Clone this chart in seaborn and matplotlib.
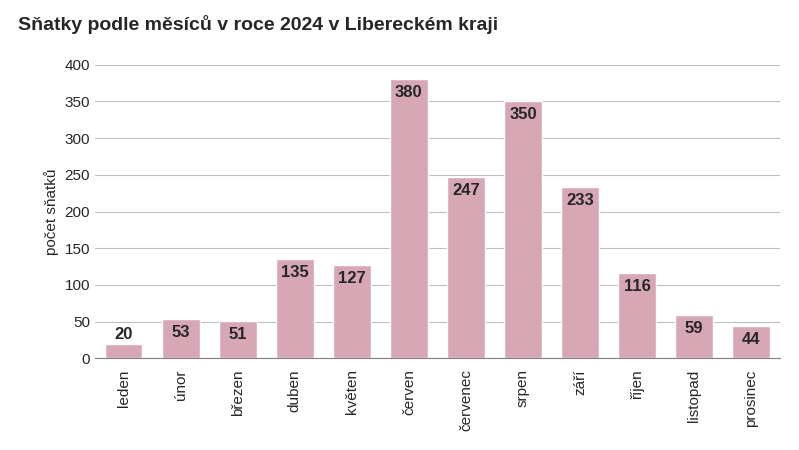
import matplotlib
matplotlib.use("Agg")
import matplotlib.pyplot as plt
import pandas as pd
import seaborn as sns

months = ["leden", "únor", "březen", "duben", "květen", "červen",
          "červenec", "srpen", "září", "říjen", "listopad", "prosinec"]
weddings = [20, 53, 51, 135, 127, 380, 247, 350, 233, 116, 59, 44]

sns.set_style("white")
plt.rcParams["font.family"] = ["Liberation Sans", "DejaVu Sans"]

df = pd.DataFrame({"mesic": months, "pocet": weddings})

fig = plt.figure(figsize=(7.99, 4.5), dpi=100)
ax = fig.add_axes([0.119, 0.204, 0.857, 0.652])
sns.barplot(data=df, x="mesic", y="pocet", color="#d8a7b5", saturation=1, width=0.66, ax=ax, zorder=2)

ax.set_ylim(0, 400)
ax.set_yticks(range(0, 401, 50))
ax.yaxis.grid(True, color="#bfbfbf", linewidth=0.8, zorder=0)
ax.set_axisbelow(True)
for s in ["top", "right", "left"]:
    ax.spines[s].set_visible(False)
ax.spines["bottom"].set_color("#808080")
ax.tick_params(axis="x", rotation=90, labelsize=11, length=0, pad=8)
ax.tick_params(axis="y", labelsize=11, length=0)
ax.set_xlabel("")
ax.set_ylabel("počet sňatků", fontsize=11)

for i, v in enumerate(weddings):
    if v < 40:
        ax.text(i, v + 2, str(v), ha="center", va="bottom", fontsize=12, fontweight="bold")
    else:
        ax.text(i, v - 8, str(v), ha="center", va="top", fontsize=12, fontweight="bold")

fig.text(0.022, 0.945, "Sňatky podle měsíců v roce 2024 v Libereckém kraji",
         fontsize=14, fontweight="bold", va="center")

fig.savefig("out.png", dpi=100)
